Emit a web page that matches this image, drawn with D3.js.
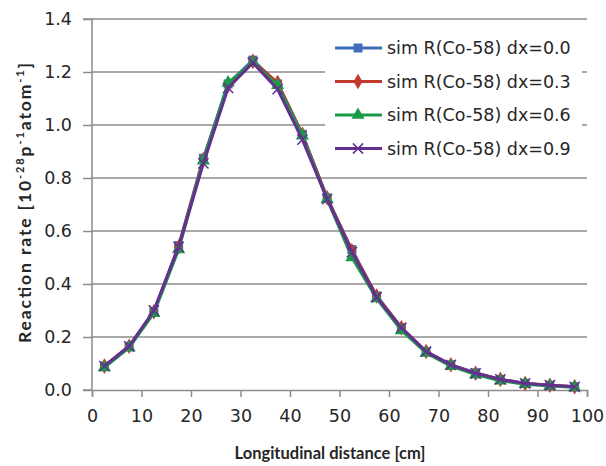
<!DOCTYPE html>
<html><head><meta charset="utf-8">
<script src="https://cdn.jsdelivr.net/npm/d3@7"></script>
<style>body{margin:0;background:#fff}svg{display:block}</style>
</head><body>
<svg id="c" width="606" height="466"></svg>
<script>
const distances = [2.5,7.5,12.5,17.5,22.5,27.5,32.5,37.5,42.5,47.5,52.5,57.5,62.5,67.5,72.5,77.5,82.5,87.5,92.5,97.5];
const dx00 = [0.09,0.165,0.295,0.545,0.875,1.155,1.245,1.155,0.965,0.725,0.53,0.355,0.235,0.145,0.095,0.065,0.04,0.025,0.018,0.012];
const dx03 = [0.09,0.165,0.295,0.54,0.87,1.15,1.24,1.16,0.965,0.725,0.525,0.355,0.235,0.145,0.095,0.063,0.04,0.025,0.018,0.012];
const dx06 = [0.085,0.16,0.29,0.53,0.865,1.16,1.235,1.15,0.96,0.72,0.5,0.345,0.225,0.14,0.09,0.058,0.035,0.022,0.015,0.01];
const dx09 = [0.09,0.165,0.3,0.54,0.855,1.14,1.235,1.135,0.945,0.72,0.52,0.35,0.235,0.145,0.095,0.063,0.04,0.025,0.018,0.012];
const seriesNames = ["sim R(Co-58) dx=0.0","sim R(Co-58) dx=0.3","sim R(Co-58) dx=0.6","sim R(Co-58) dx=0.9"];
const xTicks = [0,10,20,30,40,50,60,70,80,90,100];
const yTicks = [0.0,0.2,0.4,0.6,0.8,1.0,1.2,1.4];

const series = [
  {name: seriesNames[0], values: dx00, color: "#3d6cb8", marker: "square"},
  {name: seriesNames[1], values: dx03, color: "#c0392b", marker: "diamond"},
  {name: seriesNames[2], values: dx06, color: "#1a9a48", marker: "triangle"},
  {name: seriesNames[3], values: dx09, color: "#64308f", marker: "x"}
];

const svg = d3.select("#c");
const L = 92, R = 587, T = 19, B = 390;
const x = d3.scaleLinear().domain([0,100]).range([L,R]);
const y = d3.scaleLinear().domain([0,1.4]).range([B,T]);
const grid = "#8c8c8c";
const tickFont = "'DejaVu Sans', Verdana, sans-serif";
const titleFont = "Lato, 'Open Sans', sans-serif";

// gridlines
svg.append("g").selectAll("line").data(yTicks.slice(1)).join("line")
  .attr("x1", L).attr("x2", R).attr("y1", d=>y(d)).attr("y2", d=>y(d))
  .attr("stroke", grid).attr("stroke-width", 1.5);

// y axis
const ya = svg.append("g").attr("transform", `translate(${L},0)`)
  .call(d3.axisLeft(y).tickValues(yTicks).tickFormat(d3.format(".1f")).tickSize(9).tickPadding(11));
// x axis
const xa = svg.append("g").attr("transform", `translate(0,${B})`)
  .call(d3.axisBottom(x).tickValues(xTicks).tickSize(7).tickPadding(13));
[ya, xa].forEach(a => {
  a.select(".domain").attr("stroke", grid).attr("stroke-width", 1.5);
  a.selectAll(".tick line").attr("stroke", grid).attr("stroke-width", 1.5);
  a.selectAll("text").attr("font-family", tickFont).attr("font-size", 17.5).attr("fill", "#262626");
});
ya.select(".domain").attr("d", `M-9,${T}H0V${B}H-9`);

// lines
const line = d3.line().x((d,i)=>x(distances[i])).y(d=>y(d));
const sym = {square: d3.symbolSquare, diamond: d3.symbolDiamond, triangle: d3.symbolTriangle, x: d3.symbolX};
const size = {square: 80, diamond: 70, triangle: 75, x: 70};
function drawMarker(g, s, px, py) {
  const p = g.append("path").attr("transform", `translate(${px},${py})`)
    .attr("d", d3.symbol().type(sym[s.marker]).size(size[s.marker])());
  if (s.marker === "x") p.attr("fill","none").attr("stroke", s.color).attr("stroke-width", 1.5);
  else p.attr("fill", s.color);
}
series.forEach(s => {
  const g = svg.append("g");
  g.append("path").attr("d", line(s.values)).attr("fill","none")
    .attr("stroke", s.color).attr("stroke-width", 3).attr("stroke-linejoin","round");
  s.values.forEach((v,i) => drawMarker(g, s, x(distances[i]), y(v)));
});

// legend
const lg = svg.append("g");
lg.append("rect").attr("x", 325).attr("y", 30).attr("width", 257).attr("height", 135).attr("fill", "#fff");
series.forEach((s, i) => {
  const cy = 48 + i*33.5;
  lg.append("line").attr("x1", 335).attr("x2", 382).attr("y1", cy).attr("y2", cy)
    .attr("stroke", s.color).attr("stroke-width", 3);
  drawMarker(lg, s, 358, cy);
  lg.append("text").attr("x", 387).attr("y", cy).attr("dy", "0.36em")
    .attr("font-family", tickFont).attr("font-size", 17.5).attr("fill", "#262626").text(s.name);
});

// axis titles
svg.append("text").attr("x", 330).attr("y", 459).attr("text-anchor","middle")
  .attr("font-family", titleFont).attr("font-weight", 700).attr("font-size", 16.5).attr("fill","#262626")
  .text("Longitudinal distance [cm]");

const yt = svg.append("text").attr("transform", "translate(31,203) rotate(-90)").attr("text-anchor","middle")
  .attr("font-family", titleFont).attr("font-weight", 700).attr("font-size", 17.5).attr("fill","#262626")
  .attr("textLength", 280).attr("lengthAdjust", "spacing");
const parts = [["Reaction rate [10",0],["-28",1],["p",0],["-1",1],["atom",0],["-1",1],["]",0]];
let prevSup = false;
parts.forEach(([t, sup]) => {
  const ts = yt.append("tspan").text(t);
  if (sup) { ts.attr("font-size", 11).attr("dy", prevSup ? 0 : -7); prevSup = true; }
  else { if (prevSup) ts.attr("dy", 7); prevSup = false; }
});
</script>
</body></html>
